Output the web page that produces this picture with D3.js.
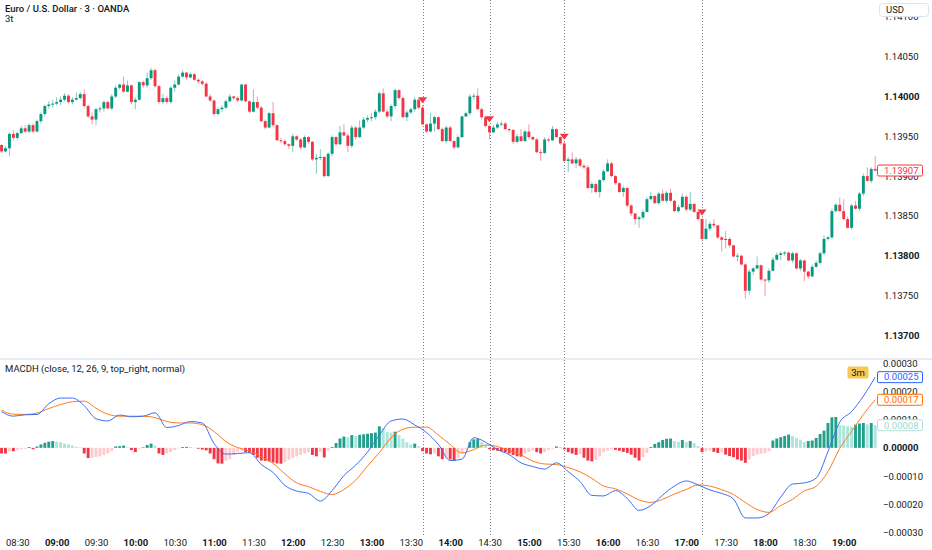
<!DOCTYPE html>
<html><head><meta charset="utf-8"><title>EURUSD 3m</title>
<script src="https://cdn.jsdelivr.net/npm/d3@7/dist/d3.min.js"></script>
<style>
html,body{margin:0;padding:0;background:#ffffff;overflow:hidden;}
svg{display:block;font-family:Roboto,"Liberation Sans",Arial,sans-serif;}
</style></head><body>
<svg id="chart" width="932" height="550"></svg>
<script>
const chartTitle = "Euro / U.S. Dollar · 3 · OANDA";
const subTitle = "3t";
const macdTitle = "MACDH (close, 12, 26, 9, top_right, normal)";
const intervalBadge = "3m";
const currencyLabel = "USD";
const firstBarTime = "08:18";
const barMinutes = 3;

const opens = [
1.13939,1.13931,1.13935,1.13953,1.13948,1.13954,1.13960,1.13956,1.13964,1.13956,
1.13969,1.13978,1.13988,1.13990,1.13991,1.13993,1.13996,1.14001,1.13993,1.13996,
1.13998,1.14003,1.13988,1.13975,1.13971,1.13984,1.13985,1.13993,1.13985,1.14000,
1.14011,1.14015,1.14006,1.14014,1.13993,1.13996,1.14018,1.14014,1.14023,1.14033,
1.14013,1.13993,1.13998,1.13993,1.14011,1.14015,1.14025,1.14030,1.14024,1.14028,
1.14021,1.14019,1.14016,1.14000,1.13995,1.13978,1.13984,1.13986,1.13994,1.14000,
1.13998,1.13995,1.14015,1.13994,1.13981,1.13993,1.13986,1.13969,1.13961,1.13979,
1.13964,1.13945,1.13944,1.13940,1.13938,1.13950,1.13946,1.13936,1.13949,1.13943,
1.13921,1.13923,1.13924,1.13900,1.13928,1.13949,1.13940,1.13955,1.13951,1.13938,
1.13961,1.13949,1.13961,1.13971,1.13973,1.13974,1.13981,1.14004,1.13981,1.13975,
1.13988,1.14008,1.13998,1.13974,1.13980,1.13984,1.13996,1.13986,1.13965,1.13956,
1.13966,1.13974,1.13959,1.13944,1.13961,1.13944,1.13936,1.13949,1.13975,1.13979,
1.14000,1.14001,1.13984,1.13974,1.13963,1.13955,1.13961,1.13965,1.13966,1.13959,
1.13958,1.13943,1.13950,1.13944,1.13956,1.13949,1.13946,1.13930,1.13929,1.13946,
1.13945,1.13959,1.13949,1.13941,1.13919,1.13921,1.13916,1.13921,1.13913,1.13911,
1.13885,1.13890,1.13880,1.13895,1.13906,1.13916,1.13900,1.13891,1.13880,1.13885,
1.13863,1.13853,1.13846,1.13848,1.13855,1.13871,1.13875,1.13866,1.13878,1.13869,
1.13879,1.13869,1.13856,1.13861,1.13874,1.13858,1.13865,1.13855,1.13846,1.13821,
1.13834,1.13840,1.13838,1.13823,1.13820,1.13821,1.13813,1.13799,1.13800,1.13789,
1.13756,1.13780,1.13784,1.13788,1.13770,1.13769,1.13781,1.13795,1.13801,1.13803,
1.13804,1.13794,1.13803,1.13784,1.13794,1.13780,1.13774,1.13786,1.13791,1.13803,
1.13821,1.13823,1.13856,1.13864,1.13856,1.13846,1.13835,1.13863,1.13859,1.13878,
1.13900,1.13894,1.13909];

const highs = [
1.13940,1.13938,1.13955,1.13958,1.13956,1.13963,1.13964,1.13966,1.13966,1.13971,
1.13980,1.13990,1.13994,1.13996,1.13999,1.14000,1.14004,1.14003,1.13999,1.14005,
1.14006,1.14009,1.13990,1.13980,1.13986,1.13988,1.13995,1.13995,1.14003,1.14014,
1.14016,1.14025,1.14020,1.14015,1.13999,1.14019,1.14020,1.14030,1.14036,1.14035,
1.14015,1.14003,1.14000,1.14013,1.14020,1.14028,1.14033,1.14031,1.14030,1.14029,
1.14023,1.14021,1.14018,1.14003,1.13996,1.13986,1.13989,1.13996,1.14003,1.14001,
1.14000,1.14016,1.14016,1.13995,1.14009,1.14000,1.13988,1.13971,1.13981,1.13993,
1.13965,1.13948,1.13946,1.13941,1.13953,1.13951,1.13948,1.13951,1.13950,1.13944,
1.13928,1.13934,1.13925,1.13930,1.13951,1.13950,1.13963,1.13965,1.13954,1.13964,
1.13963,1.13970,1.13974,1.13976,1.13979,1.13984,1.14006,1.14010,1.13984,1.13990,
1.14010,1.14009,1.14000,1.13983,1.13986,1.13999,1.13998,1.13989,1.13966,1.13979,
1.13976,1.13975,1.13961,1.13963,1.13963,1.13945,1.13951,1.13976,1.13981,1.14003,
1.14004,1.14010,1.13986,1.13975,1.13965,1.13964,1.13968,1.13969,1.13968,1.13960,
1.13959,1.13953,1.13959,1.13958,1.13965,1.13950,1.13948,1.13934,1.13949,1.13948,
1.13963,1.13960,1.13950,1.13943,1.13924,1.13930,1.13924,1.13923,1.13915,1.13914,
1.13893,1.13891,1.13896,1.13909,1.13921,1.13918,1.13901,1.13893,1.13888,1.13886,
1.13865,1.13854,1.13850,1.13858,1.13874,1.13880,1.13876,1.13880,1.13883,1.13881,
1.13884,1.13870,1.13864,1.13878,1.13876,1.13880,1.13866,1.13856,1.13848,1.13846,
1.13843,1.13846,1.13839,1.13825,1.13831,1.13823,1.13814,1.13803,1.13801,1.13790,
1.13783,1.13786,1.13799,1.13789,1.13771,1.13784,1.13798,1.13804,1.13805,1.13806,
1.13805,1.13805,1.13804,1.13796,1.13795,1.13781,1.13789,1.13794,1.13805,1.13826,
1.13825,1.13859,1.13866,1.13873,1.13871,1.13849,1.13865,1.13869,1.13880,1.13903,
1.13911,1.13911,1.13925];

const lows = [
1.13929,1.13930,1.13925,1.13945,1.13945,1.13953,1.13954,1.13954,1.13954,1.13955,
1.13966,1.13975,1.13985,1.13986,1.13989,1.13989,1.13994,1.13991,1.13990,1.13995,
1.13996,1.13986,1.13973,1.13965,1.13964,1.13980,1.13981,1.13984,1.13983,1.13998,
1.14009,1.14005,1.14005,1.13990,1.13984,1.13995,1.14011,1.14011,1.14021,1.14011,
1.13991,1.13990,1.13991,1.13991,1.14006,1.14014,1.14024,1.14021,1.14023,1.14020,
1.14016,1.14014,1.13999,1.13993,1.13976,1.13976,1.13980,1.13984,1.13993,1.13996,
1.13993,1.13994,1.13993,1.13979,1.13980,1.13984,1.13968,1.13959,1.13960,1.13961,
1.13944,1.13941,1.13938,1.13934,1.13930,1.13944,1.13934,1.13935,1.13940,1.13919,
1.13903,1.13920,1.13898,1.13899,1.13925,1.13938,1.13939,1.13950,1.13930,1.13935,
1.13946,1.13948,1.13959,1.13968,1.13969,1.13971,1.13979,1.13980,1.13973,1.13969,
1.13985,1.13996,1.13973,1.13969,1.13978,1.13981,1.13984,1.13964,1.13954,1.13955,
1.13956,1.13958,1.13943,1.13941,1.13943,1.13934,1.13935,1.13948,1.13974,1.13976,
1.13996,1.13983,1.13971,1.13961,1.13946,1.13954,1.13959,1.13963,1.13958,1.13955,
1.13940,1.13941,1.13943,1.13943,1.13946,1.13945,1.13929,1.13919,1.13928,1.13943,
1.13944,1.13948,1.13939,1.13918,1.13905,1.13915,1.13910,1.13911,1.13909,1.13884,
1.13879,1.13878,1.13873,1.13893,1.13905,1.13899,1.13889,1.13879,1.13874,1.13861,
1.13850,1.13839,1.13835,1.13845,1.13854,1.13870,1.13865,1.13864,1.13868,1.13866,
1.13868,1.13855,1.13854,1.13860,1.13856,1.13856,1.13854,1.13844,1.13819,1.13820,
1.13831,1.13835,1.13821,1.13805,1.13809,1.13810,1.13798,1.13793,1.13788,1.13746,
1.13751,1.13776,1.13783,1.13769,1.13749,1.13766,1.13780,1.13794,1.13794,1.13800,
1.13793,1.13791,1.13783,1.13781,1.13768,1.13771,1.13773,1.13785,1.13789,1.13801,
1.13819,1.13821,1.13854,1.13855,1.13844,1.13834,1.13833,1.13858,1.13856,1.13875,
1.13893,1.13891,1.13906];

const closes = [
1.13931,1.13935,1.13953,1.13948,1.13954,1.13960,1.13956,1.13964,1.13956,1.13969,
1.13978,1.13988,1.13990,1.13991,1.13993,1.13996,1.14001,1.13993,1.13996,1.13998,
1.14003,1.13988,1.13975,1.13971,1.13984,1.13985,1.13993,1.13985,1.14000,1.14011,
1.14015,1.14006,1.14014,1.13993,1.13996,1.14018,1.14014,1.14023,1.14033,1.14013,
1.13993,1.13998,1.13993,1.14011,1.14015,1.14025,1.14030,1.14024,1.14028,1.14021,
1.14019,1.14016,1.14000,1.13995,1.13978,1.13984,1.13986,1.13994,1.14000,1.13998,
1.13995,1.14015,1.13994,1.13981,1.13993,1.13986,1.13969,1.13961,1.13979,1.13964,
1.13945,1.13944,1.13940,1.13938,1.13950,1.13946,1.13936,1.13949,1.13943,1.13921,
1.13923,1.13924,1.13900,1.13928,1.13949,1.13940,1.13955,1.13951,1.13938,1.13961,
1.13949,1.13961,1.13971,1.13973,1.13974,1.13981,1.14004,1.13981,1.13975,1.13988,
1.14008,1.13998,1.13974,1.13980,1.13984,1.13996,1.13986,1.13965,1.13956,1.13966,
1.13974,1.13959,1.13944,1.13961,1.13944,1.13936,1.13949,1.13975,1.13979,1.14000,
1.14001,1.13984,1.13974,1.13963,1.13955,1.13961,1.13965,1.13966,1.13959,1.13958,
1.13943,1.13950,1.13944,1.13956,1.13949,1.13946,1.13930,1.13929,1.13946,1.13945,
1.13959,1.13949,1.13941,1.13919,1.13921,1.13916,1.13921,1.13913,1.13911,1.13885,
1.13890,1.13880,1.13895,1.13906,1.13916,1.13900,1.13891,1.13880,1.13885,1.13863,
1.13853,1.13846,1.13848,1.13855,1.13871,1.13875,1.13866,1.13878,1.13869,1.13879,
1.13869,1.13856,1.13861,1.13874,1.13858,1.13865,1.13855,1.13846,1.13821,1.13834,
1.13840,1.13838,1.13823,1.13820,1.13821,1.13813,1.13799,1.13800,1.13789,1.13756,
1.13780,1.13784,1.13788,1.13770,1.13769,1.13781,1.13795,1.13801,1.13803,1.13804,
1.13794,1.13803,1.13784,1.13794,1.13780,1.13774,1.13786,1.13791,1.13803,1.13821,
1.13823,1.13856,1.13864,1.13856,1.13846,1.13835,1.13863,1.13859,1.13878,1.13900,
1.13894,1.13909,1.13907];

// MACD and signal read every 3rd bar
const macdSampleStep = 3;
const macdValues = [
12.8e-5,11.2e-5,11.7e-5,11.8e-5,15.6e-5,17.6e-5,17.6e-5,14.9e-5,10.3e-5,9.5e-5,
11.6e-5,11.0e-5,11.2e-5,12.4e-5,7.2e-5,7.9e-5,9.3e-5,8.8e-5,1.5e-5,-2.2e-5,
-2.0e-5,-1.7e-5,-5.9e-5,-8.7e-5,-13.3e-5,-15.3e-5,-16.1e-5,-18.8e-5,-15.1e-5,-9.8e-5,
-6.1e-5,-1.5e-5,4.5e-5,9.5e-5,10.2e-5,8.1e-5,5.4e-5,1.2e-5,-4.5e-5,-4.0e-5,
3.6e-5,2.0e-5,-0.6e-5,-2.4e-5,-5.3e-5,-6.6e-5,-7.5e-5,-5.3e-5,-8.4e-5,-11.9e-5,
-16.8e-5,-17.0e-5,-15.1e-5,-17.9e-5,-22.1e-5,-20.4e-5,-16.7e-5,-13.5e-5,-11.7e-5,-13.1e-5,
-14.9e-5,-16.1e-5,-18.1e-5,-24.8e-5,-24.8e-5,-23.2e-5,-17.4e-5,-12.8e-5,-12.4e-5,-10.7e-5,
-1.3e-5,9.1e-5,12.8e-5,18.3e-5,25.0e-5];
const signalValues = [
13.3e-5,11.9e-5,11.8e-5,12.3e-5,13.9e-5,15.3e-5,16.3e-5,16.5e-5,14.0e-5,11.9e-5,
11.2e-5,11.2e-5,11.2e-5,10.7e-5,9.3e-5,8.8e-5,8.8e-5,8.2e-5,5.8e-5,2.2e-5,
0.1e-5,-1.1e-5,-3.2e-5,-5.5e-5,-9.2e-5,-12.4e-5,-13.7e-5,-15.4e-5,-16.5e-5,-14.7e-5,
-11.4e-5,-6.4e-5,-1.7e-5,3.6e-5,6.6e-5,7.3e-5,7.3e-5,4.5e-5,1.2e-5,-1.8e-5,
-0.6e-5,1.0e-5,0.5e-5,-1.0e-5,-2.5e-5,-4.7e-5,-5.7e-5,-5.9e-5,-7.0e-5,-8.5e-5,
-10.8e-5,-13.5e-5,-14.5e-5,-16.3e-5,-18.4e-5,-19.3e-5,-18.2e-5,-16.3e-5,-14.7e-5,-13.1e-5,
-13.5e-5,-14.8e-5,-16.5e-5,-19.3e-5,-21.8e-5,-22.8e-5,-20.4e-5,-18.2e-5,-15.2e-5,-13.6e-5,
-8.4e-5,-0.2e-5,5.8e-5,11.8e-5,17.0e-5];
// histogram, one value per bar
const histValues = [
-2.0e-5,-2.0e-5,-1.2e-5,-1.2e-5,-0.8e-5,-0.5e-5,-0.3e-5,0.3e-5,-0.5e-5,0.5e-5,
1.2e-5,1.8e-5,2.2e-5,2.4e-5,2.2e-5,2.0e-5,1.5e-5,1.2e-5,0.8e-5,0.4e-5,
0.2e-5,-2.0e-5,-3.6e-5,-3.5e-5,-3.3e-5,-3.0e-5,-2.5e-5,-2.0e-5,-1.2e-5,0.5e-5,
0.6e-5,0.8e-5,0.2e-5,-0.8e-5,-1.5e-5,-0.3e-5,0.2e-5,1.0e-5,1.5e-5,0.8e-5,
-2.0e-5,-2.5e-5,-2.0e-5,-1.5e-5,-0.8e-5,-0.2e-5,0.3e-5,0.35e-5,0.3e-5,0.1e-5,
-0.3e-5,-0.6e-5,-0.9e-5,-2.0e-5,-4.0e-5,-5.5e-5,-5.6e-5,-4.5e-5,-4.0e-5,-2.5e-5,
-1.5e-5,-1.0e-5,-1.5e-5,-1.8e-5,-2.5e-5,-3.5e-5,-4.5e-5,-4.6e-5,-4.8e-5,-5.2e-5,
-5.5e-5,-5.6e-5,-5.0e-5,-4.2e-5,-3.5e-5,-3.0e-5,-2.5e-5,-2.0e-5,-1.5e-5,-2.5e-5,
-3.0e-5,-1.5e-5,-3.4e-5,-1.0e-5,0.3e-5,1.7e-5,3.3e-5,4.0e-5,3.8e-5,4.5e-5,
4.2e-5,4.6e-5,4.8e-5,5.0e-5,5.2e-5,5.4e-5,7.6e-5,6.8e-5,5.6e-5,5.4e-5,
5.7e-5,4.5e-5,3.2e-5,2.0e-5,1.2e-5,1.5e-5,0.6e-5,-1.2e-5,-2.0e-5,-2.3e-5,
-2.0e-5,-3.0e-5,-4.0e-5,-3.5e-5,-4.1e-5,-4.6e-5,-3.5e-5,-2.0e-5,-0.5e-5,2.0e-5,
3.0e-5,3.1e-5,2.0e-5,1.0e-5,-0.5e-5,-0.8e-5,-1.0e-5,-1.1e-5,-1.5e-5,-2.0e-5,
-2.5e-5,-3.0e-5,-3.1e-5,-2.0e-5,-1.5e-5,-1.0e-5,-1.5e-5,-2.0e-5,-1.5e-5,-0.8e-5,
-0.3e-5,0.5e-5,0.3e-5,-0.5e-5,-1.5e-5,-2.0e-5,-2.5e-5,-2.2e-5,-3.5e-5,-4.5e-5,
-4.8e-5,-4.3e-5,-3.0e-5,-1.5e-5,-1.0e-5,-0.5e-5,-0.7e-5,-1.0e-5,-1.4e-5,-1.8e-5,
-2.4e-5,-3.5e-5,-4.5e-5,-3.3e-5,-1.8e-5,0.3e-5,1.4e-5,2.0e-5,2.8e-5,3.2e-5,
3.3e-5,2.4e-5,2.1e-5,2.8e-5,2.1e-5,2.4e-5,1.7e-5,0.6e-5,-1.5e-5,-1.2e-5,
-0.9e-5,-1.4e-5,-1.8e-5,-1.6e-5,-2.4e-5,-2.9e-5,-3.3e-5,-4.1e-5,-4.5e-5,-5.3e-5,
-4.1e-5,-2.9e-5,-2.4e-5,-2.1e-5,-1.9e-5,-1.2e-5,2.6e-5,3.3e-5,3.8e-5,4.2e-5,
4.7e-5,4.1e-5,3.5e-5,2.9e-5,2.1e-5,2.4e-5,2.6e-5,3.5e-5,4.9e-5,6.1e-5,
8.8e-5,10.8e-5,10.9e-5,8.0e-5,7.9e-5,7.6e-5,7.5e-5,8.2e-5,8.6e-5,8.8e-5,
8.3e-5,8.8e-5,8.0e-5];

const priceTicks = [1.141, 1.1405, 1.14, 1.1395, 1.139, 1.1385, 1.138, 1.1375, 1.137];
const emphasizedPriceLabels = ["1.14000", "1.13800", "1.13700"];
const macdTicks = [0.0003, 0.0002, 0.0001, 0, -0.0001, -0.0002, -0.0003];
const timeTicks = ["08:30","09:00","09:30","10:00","10:30","11:00","11:30","12:00","12:30","13:00","13:30",
                   "14:00","14:30","15:00","15:30","16:00","16:30","17:00","17:30","18:00","18:30","19:00"];
const sellSignalTimes = ["13:39","14:30","15:27","17:12"];

// ---------------- drawing ----------------
const W = 932, H = 550, plotRight = 877;
const svg = d3.select("#chart");
const toMin = s => { const [h, m] = s.split(":").map(Number); return h * 60 + m; };
const t0 = toMin(firstBarTime);
const x = d3.scaleLinear().domain([toMin("08:30"), toMin("19:00")]).range([17.3, 843.7]);
const yP = d3.scaleLinear().domain([1.137, 1.1405]).range([335.3, 56.7]);
const yM = d3.scaleLinear().domain([-0.0003, 0.0003]).range([532.7, 363]);
const bars = closes.map((c, i) => ({ t: t0 + i * barMinutes, o: opens[i], h: highs[i], l: lows[i], c }));

const defs = svg.append("defs");
defs.append("clipPath").attr("id", "cp").append("rect").attr("x", 0).attr("y", 0).attr("width", plotRight).attr("height", 357);
defs.append("clipPath").attr("id", "cm").append("rect").attr("x", 0).attr("y", 360).attr("width", plotRight).attr("height", 177);

svg.append("rect").attr("width", W).attr("height", H).attr("fill", "#ffffff");
svg.append("rect").attr("x", 0).attr("y", 358).attr("width", W).attr("height", 2).attr("fill", "#e9ecf2");

// vertical dotted signal lines
sellSignalTimes.forEach(s => {
  const xx = Math.round(x(toMin(s))) + 0.5;
  svg.append("line").attr("x1", xx).attr("x2", xx).attr("y1", 0).attr("y2", 536)
    .attr("stroke", "#7f838d").attr("stroke-width", 1).attr("stroke-dasharray", "1,2");
});

// candles
const UP = "#089981", DN = "#F23645";
const UPW = "rgba(8,153,129,0.5)", DNW = "rgba(242,54,69,0.5)";
const gC = svg.append("g").attr("clip-path", "url(#cp)");
gC.selectAll("line.wick").data(bars).join("line").attr("class", "wick")
  .attr("x1", d => x(d.t)).attr("x2", d => x(d.t))
  .attr("y1", d => yP(d.h)).attr("y2", d => yP(d.l))
  .attr("stroke", d => d.c >= d.o ? UPW : DNW).attr("stroke-width", 1);
gC.selectAll("rect.body").data(bars).join("rect").attr("class", "body")
  .attr("x", d => x(d.t) - 1.45).attr("width", 2.9)
  .attr("y", d => yP(Math.max(d.o, d.c)))
  .attr("height", d => Math.max(1, Math.abs(yP(d.o) - yP(d.c))))
  .attr("fill", d => d.c >= d.o ? UP : DN);

// sell markers
sellSignalTimes.forEach(s => {
  const t = toMin(s);
  const b = bars[Math.round((t - t0) / barMinutes)];
  const cx = x(t), tip = yP(b.h) - 2;
  svg.append("path").attr("d", `M${cx - 4.5},${tip - 6}L${cx + 4.5},${tip - 6}L${cx},${tip}Z`).attr("fill", DN);
});

// MACD pane
const gM = svg.append("g").attr("clip-path", "url(#cm)");
const histColor = (v, p) => v >= 0
  ? (p === undefined || v >= p ? "#22a08b" : "#ace5dc")
  : (p === undefined || v <= p ? "#f23645" : "#fccbcd");
gM.selectAll("rect.hist").data(histValues).join("rect").attr("class", "hist")
  .attr("x", (v, i) => x(t0 + i * barMinutes) - 1.45).attr("width", 2.9)
  .attr("y", v => yM(Math.max(0, v)))
  .attr("height", v => Math.abs(yM(v) - yM(0)))
  .attr("fill", (v, i) => histColor(v, histValues[i - 1]));
const lineGen = d3.line()
  .x((v, i) => x(t0 + i * macdSampleStep * barMinutes))
  .y(v => yM(v)).curve(d3.curveMonotoneX);
gM.append("path").attr("d", lineGen(signalValues)).attr("fill", "none").attr("stroke", "#FF7a1a").attr("stroke-width", 1);
gM.append("path").attr("d", lineGen(macdValues)).attr("fill", "none").attr("stroke", "#3d6ff5").attr("stroke-width", 1);

// axes
const fmtP = d3.format(".5f");
const styleAxis = g => {
  g.select(".domain").remove();
  g.attr("font-family", null).attr("font-size", null);
  g.selectAll("text").attr("fill", "#131722").style("font-size", "9.5px");
};
const pAxis = svg.append("g").attr("transform", `translate(${plotRight},0)`)
  .call(d3.axisRight(yP).tickValues(priceTicks).tickFormat(fmtP).tickSize(0).tickPadding(7))
  .call(styleAxis);
pAxis.selectAll("text").attr("font-weight", d => emphasizedPriceLabels.includes(fmtP(d)) ? 700 : 400);

const fmtM = v => (v < 0 ? "\u2212" : "") + d3.format(".5f")(Math.abs(v));
const mAxis = svg.append("g").attr("transform", `translate(${plotRight},0)`)
  .call(d3.axisRight(yM).tickValues(macdTicks).tickFormat(fmtM).tickSize(0).tickPadding(6))
  .call(styleAxis);
mAxis.selectAll("text").attr("font-weight", d => d === 0 ? 700 : 400);

const tAxis = svg.append("g").attr("transform", "translate(0,536)")
  .call(d3.axisBottom(x).tickValues(timeTicks.map(toMin)).tickFormat((m, i) => timeTicks[i]).tickSize(0).tickPadding(3))
  .call(styleAxis);
tAxis.selectAll("text").attr("font-weight", (m, i) => timeTicks[i].endsWith(":00") ? 700 : 400);

// currency box (covers top label partially)
svg.append("rect").attr("x", 879.5).attr("y", 3.5).attr("width", 49).attr("height", 13).attr("rx", 3)
  .attr("fill", "#ffffff").attr("stroke", "#e0e3eb");
svg.append("text").attr("x", 886).attr("y", 10).attr("dy", "0.35em").attr("font-size", 9.5).attr("fill", "#131722").text(currencyLabel);

// last value labels
const lastClose = closes[closes.length - 1];
const addValueBox = (val, yy, stroke, txtColor, fmt) => {
  svg.append("rect").attr("x", 877.5).attr("y", yy - 5.5).attr("width", 45).attr("height", 11).attr("rx", 1.5)
    .attr("fill", "#ffffff").attr("stroke", stroke).attr("stroke-width", 1);
  svg.append("text").attr("x", 884).attr("y", yy).attr("dy", "0.35em").attr("font-size", 9.5)
    .attr("fill", txtColor).text(fmt(val));
};
addValueBox(lastClose, yP(lastClose), "#F23645", "#F23645", fmtP);
const lastHist = histValues[histValues.length - 1];
addValueBox(lastHist, yM(lastHist), "#b2dfdb", "#9fd8cd", fmtM);
const lastSig = signalValues[signalValues.length - 1];
addValueBox(lastSig, yM(lastSig), "#FF6D00", "#FF6D00", fmtM);
const lastMacd = macdValues[macdValues.length - 1];
addValueBox(lastMacd, yM(lastMacd), "#2962FF", "#2962FF", fmtM);

// titles
svg.append("text").attr("x", 5).attr("y", 9).attr("dy", "0.35em").attr("font-size", 9.5).attr("font-weight", 500)
  .attr("fill", "#131722").text(chartTitle);
svg.append("text").attr("x", 5).attr("y", 19).attr("dy", "0.35em").attr("font-size", 9.5)
  .attr("fill", "#131722").text(subTitle);
svg.append("text").attr("x", 5).attr("y", 369).attr("dy", "0.35em").attr("font-size", 9.5)
  .attr("fill", "#131722").text(macdTitle);

// interval badge
svg.append("rect").attr("x", 847.5).attr("y", 366.5).attr("width", 21).attr("height", 12).attr("rx", 2).attr("fill", "#f8c754");
svg.append("text").attr("x", 858).attr("y", 372.5).attr("dy", "0.35em").attr("text-anchor", "middle")
  .attr("font-size", 9.5).attr("fill", "#131722").text(intervalBadge);
</script>
</body></html>
